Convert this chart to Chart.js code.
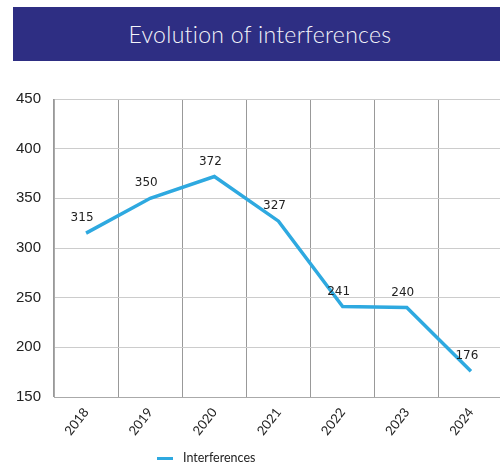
<!DOCTYPE html>
<html>
<head>
<meta charset="utf-8">
<script src="https://cdn.jsdelivr.net/npm/chart.js@4/dist/chart.umd.min.js"></script>
<style>
	html, body { margin: 0; padding: 0; width: 500px; height: 464px; overflow: hidden; background: #fff; }
	#banner {
		position: absolute; left: 13px; top: 7px; width: 494px; height: 54px;
		background: #2e2e83; color: #f4f4fa; font-family: Lato, sans-serif; font-size: 23px; font-weight: 300;
		line-height: 54px; text-align: center; letter-spacing: 0.3px;
	}
	#wrap { position: absolute; left: 0; top: 0; width: 503px; height: 464px; }
	#legend {
		position: absolute; left: 157px; top: 449px; font-family: Lato, sans-serif; font-size: 12.5px; color: #222;
		line-height: 18px; white-space: nowrap;
	}
	#legend span.swatch { display: inline-block; width: 16px; height: 3px; background: #2ea9e0; vertical-align: middle; margin-right: 10px; }
</style>
</head>
<body>
<div id="wrap"><canvas id="chart"></canvas></div>
<div id="banner">Evolution of interferences</div>
<div id="legend"><span class="swatch"></span>Interferences</div>
<script>
	const years = ['2018', '2019', '2020', '2021', '2022', '2023', '2024'];
	const interferences = [315, 350, 372, 327, 241, 240, 176];
	const yTicks = [150, 200, 250, 300, 350, 400, 450];

	// valeurs au-dessus de chaque point
	const valueLabels = {
		id: 'valueLabels',
		afterDatasetsDraw(chart) {
			const ctx = chart.ctx;
			const meta = chart.getDatasetMeta(0);
			ctx.save();
			ctx.font = '12px "DejaVu Sans", sans-serif';
			ctx.fillStyle = '#222';
			ctx.textAlign = 'center';
			ctx.textBaseline = 'middle';
			meta.data.forEach((pt, i) => {
				ctx.fillText(String(interferences[i]), pt.x - 4, pt.y - 15);
			});
			ctx.restore();
		}
	};

	const ctx = document.getElementById('chart').getContext('2d');
	const chart = new Chart(ctx, {
		type: 'line',
		data: {
			labels: years,
			datasets: [{
				label: 'Interferences',
				data: interferences,
				borderColor: '#2ea9e0',
				backgroundColor: '#2ea9e0',
				borderWidth: 3.5,
				pointRadius: 0,
				tension: 0,
				fill: false
			}]
		},
		options: {
			responsive: true,
			maintainAspectRatio: false,
			animation: false,
			layout: { padding: { top: 99, left: 0, right: 0, bottom: 0 } },
			plugins: {
				legend: { display: false },
				tooltip: { enabled: false }
			},
			scales: {
				x: {
					offset: true,
					grid: { offset: true, color: '#999', drawTicks: false },
					border: { color: '#aaa' },
					ticks: {
						minRotation: 52, maxRotation: 52, padding: 8,
						color: '#222',
						font: { family: 'Lato', size: 13 }
					},
					afterFit: (scale) => { scale.height = 67; }
				},
				y: {
					min: 150, max: 450,
					afterBuildTicks: (scale) => { scale.ticks = yTicks.map(v => ({ value: v })); },
					grid: { color: '#ccc', drawTicks: false },
					border: { color: '#aaa' },
					ticks: {
						padding: 13,
						color: '#222',
						font: { family: '"Liberation Sans"', size: 15 }
					},
					afterFit: (scale) => { scale.width = 54; }
				}
			}
		},
		plugins: [valueLabels]
	});
</script>
</body>
</html>
